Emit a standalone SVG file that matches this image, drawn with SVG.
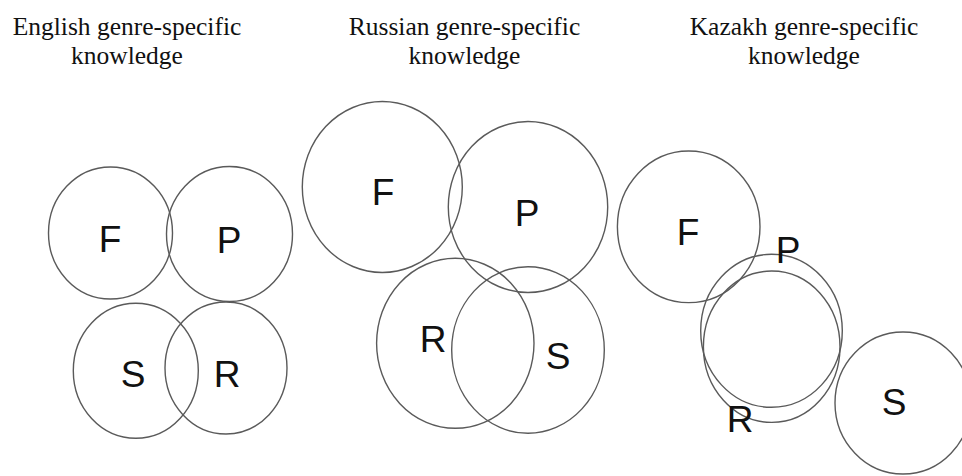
<svg xmlns="http://www.w3.org/2000/svg" width="962" height="476" viewBox="0 0 962 476">
<style>
.c{fill:none;stroke:#5a5a5a;stroke-width:1.4}
.l{font-family:"Liberation Sans",Arial,sans-serif;font-size:37px;fill:#111;text-anchor:middle}
.h{font-family:"Liberation Serif","Times New Roman",serif;font-size:25.5px;fill:#111;text-anchor:middle}
</style>
<rect width="962" height="476" fill="#fff"/>
<g id="headers">
<text class="h" x="127" y="35">English genre-specific</text>
<text class="h" x="127" y="64">knowledge</text>
<text class="h" x="464.5" y="35">Russian genre-specific</text>
<text class="h" x="464.5" y="64">knowledge</text>
<text class="h" x="804" y="35">Kazakh genre-specific</text>
<text class="h" x="804" y="64">knowledge</text>
</g>
<g id="en-F"><ellipse class="c" cx="110.5" cy="233" rx="62" ry="66"/><text class="l" x="110" y="252">F</text></g>
<g id="en-P"><ellipse class="c" cx="229.5" cy="234" rx="63" ry="67.5"/><text class="l" x="229" y="253">P</text></g>
<g id="en-S"><ellipse class="c" cx="135.8" cy="370.8" rx="62.5" ry="67.5"/><text class="l" x="133" y="387">S</text></g>
<g id="en-R"><ellipse class="c" cx="226" cy="368" rx="61" ry="66"/><text class="l" x="227" y="387">R</text></g>
<g id="ru-F"><ellipse class="c" cx="382.3" cy="187" rx="80" ry="85.5"/><text class="l" x="383" y="205">F</text></g>
<g id="ru-P"><ellipse class="c" cx="528" cy="207" rx="79.7" ry="85.5"/><text class="l" x="527" y="226">P</text></g>
<g id="ru-R"><ellipse class="c" cx="455.3" cy="343.3" rx="78.7" ry="85"/><text class="l" x="433" y="352">R</text></g>
<g id="ru-S"><ellipse class="c" cx="528" cy="350" rx="76.3" ry="83.3"/><text class="l" x="558" y="369">S</text></g>
<g id="kz-F"><ellipse class="c" cx="688.7" cy="226.8" rx="71.3" ry="75.8"/><text class="l" x="688" y="245">F</text></g>
<g id="kz-P"><ellipse class="c" cx="771.5" cy="330.8" rx="70.8" ry="76.5"/><text class="l" x="788" y="263">P</text></g>
<g id="kz-R"><ellipse class="c" cx="771.7" cy="346.7" rx="68.3" ry="75.7"/><text class="l" x="740" y="432">R</text></g>
<g id="kz-S"><ellipse class="c" cx="903" cy="403" rx="68" ry="71"/><text class="l" x="894" y="415">S</text></g>
<g id="connectors"/>
</svg>
